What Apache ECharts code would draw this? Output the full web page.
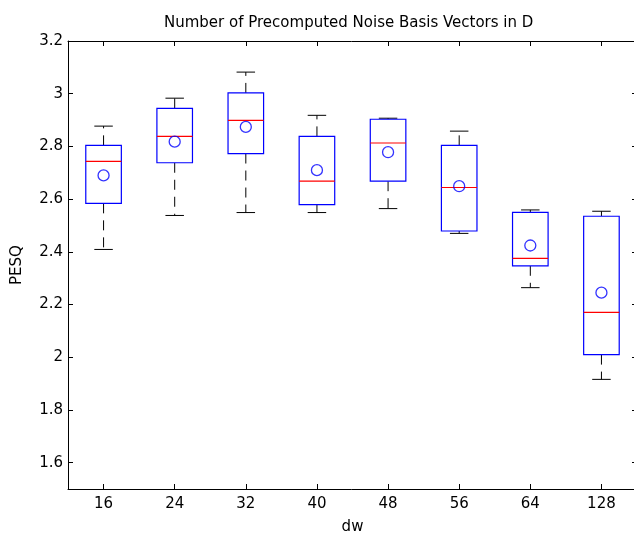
<!DOCTYPE html>
<html>
<head>
<meta charset="utf-8">
<script src="https://cdn.jsdelivr.net/npm/echarts@6/dist/echarts.min.js"></script>
<style>html,body{margin:0;padding:0;background:#fff;}#c{width:634px;height:534px;}</style>
</head>
<body>
<div id="c"></div>
<script>
var categories = ['16', '24', '32', '40', '48', '56', '64', '128'];
var lowerWhisker = [2.409, 2.538, 2.549, 2.549, 2.564, 2.470, 2.264, 1.916];
var q1 = [2.584, 2.738, 2.773, 2.579, 2.668, 2.479, 2.347, 2.010];
var medians = [2.743, 2.838, 2.899, 2.668, 2.813, 2.644, 2.375, 2.170];
var q3 = [2.804, 2.944, 3.003, 2.838, 2.903, 2.804, 2.550, 2.535];
var upperWhisker = [2.877, 2.983, 3.082, 2.918, 2.907, 2.858, 2.559, 2.554];
var means = [2.690, 2.818, 2.874, 2.710, 2.778, 2.649, 2.424, 2.245];
var yTicks = [1.6, 1.8, 2.0, 2.2, 2.4, 2.6, 2.8, 3.0, 3.2];

var boxData = categories.map(function (c, i) {
  return [i, lowerWhisker[i], q1[i], medians[i], q3[i], upperWhisker[i]];
});
var meanData = categories.map(function (c, i) { return [i, means[i]]; });

var font = 'DejaVu Sans';
var axisLine = { show: true, onZero: false, lineStyle: { color: '#000', width: 1 } };

var chart = echarts.init(document.getElementById('c'), null, { renderer: 'canvas' });
chart.setOption({
  animation: false,
  backgroundColor: '#fff',
  title: {
    text: 'Number of Precomputed Noise Basis Vectors in D',
    left: 159, top: 11,
    textStyle: { fontFamily: font, fontSize: 15, fontWeight: 'normal', color: '#000' }
  },
  grid: { left: 68, top: 41, right: -3, bottom: 45, outerBoundsMode: 'none', containLabel: false },
  xAxis: [{
    type: 'category', data: categories, position: 'bottom', boundaryGap: true,
    name: 'dw', nameLocation: 'middle', nameGap: 31,
    nameTextStyle: { fontFamily: font, fontSize: 15, color: '#000' },
    axisLine: axisLine,
    axisTick: { show: true, inside: true, length: 5, alignWithLabel: true, lineStyle: { color: '#000' } },
    axisLabel: { fontFamily: font, fontSize: 15, color: '#000', margin: 8 },
    splitLine: { show: false }
  }, {
    type: 'category', data: categories, position: 'top', boundaryGap: true,
    axisLine: axisLine,
    axisTick: { show: true, inside: true, length: 5, alignWithLabel: true, lineStyle: { color: '#000' } },
    axisLabel: { show: false },
    splitLine: { show: false }
  }],
  yAxis: [{
    type: 'value', min: 1.5, max: 3.2, position: 'left',
    name: 'PESQ', nameLocation: 'middle', nameGap: 43, nameRotate: 90,
    nameTextStyle: { fontFamily: font, fontSize: 15, color: '#000' },
    axisLine: axisLine,
    axisTick: { show: true, inside: true, length: 5, customValues: yTicks, lineStyle: { color: '#000' } },
    axisLabel: { fontFamily: font, fontSize: 15, color: '#000', margin: 5, customValues: yTicks },
    splitLine: { show: false }
  }, {
    type: 'value', min: 1.5, max: 3.2, position: 'right',
    axisLine: axisLine,
    axisTick: { show: true, inside: true, length: 5, customValues: yTicks, lineStyle: { color: '#000' } },
    axisLabel: { show: false, customValues: yTicks },
    splitLine: { show: false }
  }],
  series: [{
    type: 'custom',
    xAxisIndex: 0, yAxisIndex: 0,
    data: boxData,
    encode: { x: 0, y: [1, 2, 3, 4, 5] },
    renderItem: function (params, api) {
      var x = api.value(0);
      var pLo = api.coord([x, api.value(1)]);
      var pQ1 = api.coord([x, api.value(2)]);
      var pMed = api.coord([x, api.value(3)]);
      var pQ3 = api.coord([x, api.value(4)]);
      var pHi = api.coord([x, api.value(5)]);
      var bw = api.size([1, 0])[0];
      var hb = bw * 0.25, hc = bw * 0.13;
      var cx = pMed[0];
      var dash = { stroke: '#000', lineWidth: 1, lineDash: [10, 7] };
      var solid = { stroke: '#000', lineWidth: 1 };
      return {
        type: 'group',
        children: [
          { type: 'line', shape: { x1: cx, y1: pQ3[1], x2: cx, y2: pHi[1] }, style: dash },
          { type: 'line', shape: { x1: cx, y1: pQ1[1], x2: cx, y2: pLo[1] }, style: dash },
          { type: 'line', shape: { x1: cx - hc, y1: pHi[1], x2: cx + hc, y2: pHi[1] }, style: solid },
          { type: 'line', shape: { x1: cx - hc, y1: pLo[1], x2: cx + hc, y2: pLo[1] }, style: solid },
          { type: 'rect', shape: { x: cx - hb, y: pQ3[1], width: 2 * hb, height: pQ1[1] - pQ3[1] },
            style: { fill: '#fff', stroke: '#0000ff', lineWidth: 1.2 } },
          { type: 'line', shape: { x1: cx - hb, y1: pMed[1], x2: cx + hb, y2: pMed[1] },
            style: { stroke: '#ff0000', lineWidth: 1.2 } }
        ]
      };
    }
  }, {
    type: 'scatter',
    xAxisIndex: 0, yAxisIndex: 0,
    data: meanData,
    symbol: 'circle', symbolSize: 11,
    itemStyle: { color: 'rgba(0,0,0,0)', borderColor: '#0000ff', borderWidth: 1.3 },
    z: 5
  }]
});
</script>
</body>
</html>
